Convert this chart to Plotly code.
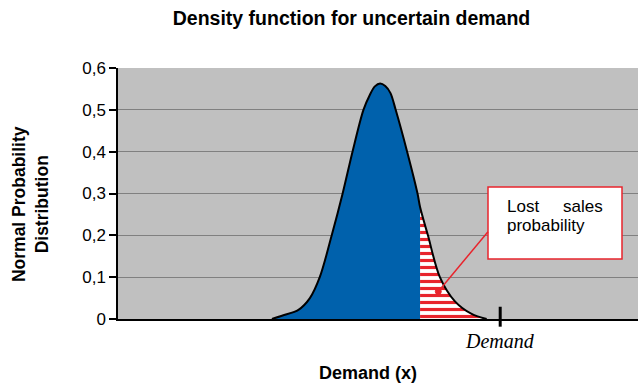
import plotly.graph_objects as go

# Values (x in demand units on a 0-100 axis, y = density)
curve_x = [29.6, 31.8, 34.7, 36.9, 38.8, 41.1, 43.2, 45.1, 47.2, 48.4, 49.4, 50.4, 51.4, 52.4, 53.4, 55.6, 57.6, 58.1, 59.6, 61.9, 64.8, 68.0, 70.9]
curve_y = [0.0, 0.009, 0.022, 0.050, 0.100, 0.200, 0.300, 0.400, 0.500, 0.535, 0.556, 0.563, 0.557, 0.540, 0.500, 0.400, 0.300, 0.267, 0.200, 0.100, 0.042, 0.012, 0.0]
cutoff_x = 58.1
demand_x = 73.5
y_ticks = [0, 0.1, 0.2, 0.3, 0.4, 0.5, 0.6]
y_tick_text = ["0", "0,1", "0,2", "0,3", "0,4", "0,5", "0,6"]

BLUE = "#0061AC"
RED = "#E8242C"
GRAY = "#C0C0C0"

left_x = [x for x in curve_x if x <= cutoff_x]
left_y = [y for x, y in zip(curve_x, curve_y) if x <= cutoff_x]
right_x = [x for x in curve_x if x >= cutoff_x]
right_y = [y for x, y in zip(curve_x, curve_y) if x >= cutoff_x]

SM = 0.9
fig = go.Figure()
fig.add_trace(go.Scatter(x=left_x, y=left_y, mode="lines", line=dict(width=0, shape="spline", smoothing=SM),
                         fill="tozeroy", fillcolor=BLUE, hoverinfo="skip", showlegend=False))
fig.add_trace(go.Scatter(x=right_x, y=right_y, mode="lines", line=dict(width=0, shape="spline", smoothing=SM),
                         fill="tozeroy", fillcolor="white",
                         fillpattern=dict(shape="-", bgcolor="white", fgcolor=RED, fgopacity=1, size=7, solidity=0.45),
                         hoverinfo="skip", showlegend=False))
fig.add_trace(go.Scatter(x=curve_x, y=curve_y, mode="lines", line=dict(color="black", width=2, shape="spline", smoothing=SM),
                         hoverinfo="skip", showlegend=False))

L, R, T, B = 118, 2, 67.5, 66.7
W, H = 640, 386
pw, ph = W - L - R, H - T - B

def px_x(p):
    return (p - L) / pw

def px_y(p):
    return (H - B - p) / ph

shapes = [
    # demand tick mark
    dict(type="line", xref="x", yref="paper", x0=demand_x, x1=demand_x, y0=px_y(327), y1=px_y(307),
         line=dict(color="black", width=3)),
    # callout box
    dict(type="rect", xref="paper", yref="paper", x0=px_x(488), x1=px_x(622), y0=px_y(259), y1=px_y(187),
         line=dict(color=RED, width=1.5), fillcolor="white"),
    # connector line
    dict(type="line", xref="paper", yref="paper", x0=px_x(488), y0=px_y(231.7), x1=px_x(438.3), y1=px_y(291.7),
         line=dict(color=RED, width=1.5)),
    dict(type="circle", xref="paper", yref="paper", x0=px_x(435.3), x1=px_x(441.3), y0=px_y(294.7), y1=px_y(288.7),
         line=dict(color=RED, width=1), fillcolor=RED),
]

annotations = [
    dict(text="<b>Normal Probability<br>Distribution</b>", xref="paper", yref="paper", x=px_x(30), y=px_y(204),
         textangle=-90, showarrow=False, font=dict(family="Liberation Sans", size=17.5, color="black"),
         xanchor="center", yanchor="middle"),
    dict(text="<b>Demand (x)</b>", xref="paper", yref="paper", x=px_x(368), y=px_y(373), showarrow=False,
         font=dict(family="Liberation Sans", size=18, color="black"), xanchor="center", yanchor="middle"),
    dict(text="<i>Demand</i>", xref="x", yref="paper", x=demand_x, y=px_y(341), showarrow=False,
         font=dict(family="Liberation Serif", size=20, color="black"), xanchor="center", yanchor="middle"),
    dict(text="Lost", xref="paper", yref="paper", x=px_x(505), y=px_y(206), showarrow=False,
         font=dict(family="Liberation Sans", size=17, color="black"), xanchor="left", yanchor="middle"),
    dict(text="sales", xref="paper", yref="paper", x=px_x(605), y=px_y(206), showarrow=False,
         font=dict(family="Liberation Sans", size=17, color="black"), xanchor="right", yanchor="middle"),
    dict(text="probability", xref="paper", yref="paper", x=px_x(505), y=px_y(226), showarrow=False,
         font=dict(family="Liberation Sans", size=17, color="black"), xanchor="left", yanchor="middle"),
]

fig.update_layout(
    width=W, height=H,
    margin=dict(l=L, r=R, t=T, b=B, pad=0),
    paper_bgcolor="white", plot_bgcolor=GRAY,
    title=dict(text="<b>Density function for uncertain demand</b>", x=px_x(351.5), xref="paper",
               y=1 - 18 / H, yref="container", xanchor="center", yanchor="middle",
               font=dict(family="Liberation Sans", size=19.5, color="black")),
    xaxis=dict(range=[0, 100], showgrid=False, zeroline=False, showticklabels=False, ticks="",
               showline=True, linecolor="black", linewidth=2, fixedrange=True),
    yaxis=dict(range=[0, 0.6], tickvals=y_ticks, ticktext=y_tick_text, showgrid=True, gridcolor="#808080",
               gridwidth=1, zeroline=False, showline=True, linecolor="black", linewidth=1.5,
               ticks="outside", ticklen=7, tickcolor="black", tickwidth=1.5,
               tickfont=dict(family="Liberation Sans", size=17, color="black"), fixedrange=True),
    shapes=shapes,
    annotations=annotations,
    showlegend=False,
)

fig.write_html("out.html")
